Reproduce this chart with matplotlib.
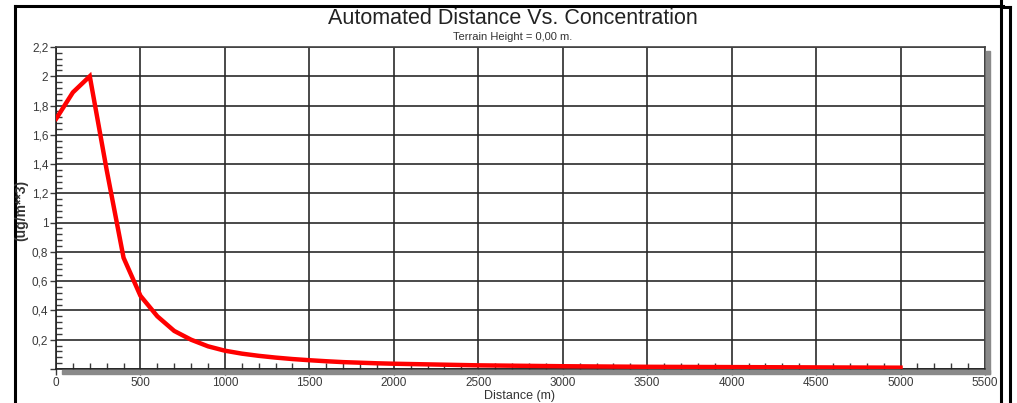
import matplotlib
matplotlib.use('Agg')
import matplotlib.pyplot as plt
from matplotlib.patches import Rectangle
from matplotlib.lines import Line2D
from matplotlib.ticker import MultipleLocator, FuncFormatter

plt.rcParams['font.family'] = ['Liberation Sans', 'DejaVu Sans']

# 数据：距离 (m) 与浓度 (ug/m**3)
distance = [1, 100, 200, 300, 400, 500, 600, 700, 800, 900, 1000, 1100, 1200,
            1300, 1400, 1500, 1600, 1700, 1800, 1900, 2000, 2500, 3000, 3500,
            4000, 4500, 5000]
concentration = [1.71, 1.89, 2.00, 1.36, 0.76, 0.50, 0.36, 0.26, 0.20, 0.155,
                 0.125, 0.105, 0.09, 0.078, 0.068, 0.06, 0.053, 0.047, 0.043,
                 0.039, 0.036, 0.025, 0.019, 0.015, 0.013, 0.011, 0.009]

title = 'Automated Distance Vs. Concentration'
subtitle = 'Terrain Height = 0,00 m.'
x_label = 'Distance (m)'
y_label = '(ug/m**3)'

W, H = 1017, 403
fig = plt.figure(figsize=(W / 100, H / 100), dpi=100)


def fx(px):
    return px / W


def fy(py):
    return 1 - py / H


ax = fig.add_axes([fx(56), fy(369), fx(985) - fx(56), fy(47) - fy(369)])
ax.plot(distance, concentration, color='#ff0000', lw=3.2,
        solid_joinstyle='miter', zorder=5)

ax.set_xlim(0, 5500)
ax.set_ylim(0, 2.2)
ax.xaxis.set_major_locator(MultipleLocator(500))
ax.xaxis.set_minor_locator(MultipleLocator(100))
ax.yaxis.set_major_locator(MultipleLocator(0.2))
ax.yaxis.set_minor_locator(MultipleLocator(0.04))


def y_fmt(v, pos):
    if abs(v) < 1e-9:
        return ''
    return f'{round(v, 2):g}'.replace('.', ',')


ax.xaxis.set_major_formatter(FuncFormatter(lambda v, p: f'{v:g}'))
ax.yaxis.set_major_formatter(FuncFormatter(y_fmt))

tick_col = '#3a3a3a'
ax.tick_params(which='major', direction='out', length=4, width=1.0,
               colors=tick_col, labelsize=8.5, pad=1.5)
ax.tick_params(which='minor', direction='in', length=4.5, width=1.0,
               color=tick_col)
ax.tick_params(axis='x', which='major', pad=2)

ax.grid(which='major', color='#2a2a2a', lw=1.2)
ax.set_axisbelow(True)

for side in ['left', 'bottom']:
    ax.spines[side].set_color('#222222')
    ax.spines[side].set_linewidth(1.2)
for side in ['top', 'right']:
    ax.spines[side].set_color('#444444')
    ax.spines[side].set_linewidth(1.2)

# 阴影边框
shadow = '#8a8a8a'
fig.patches.append(Rectangle((fx(62), fy(374)), fx(990) - fx(62), fy(370) - fy(374),
                             transform=fig.transFigure, color=shadow, zorder=0))
fig.patches.append(Rectangle((fx(986), fy(374)), fx(990) - fx(986), fy(51) - fy(374),
                             transform=fig.transFigure, color=shadow, zorder=0))

# 文档边框
border = dict(color='black', lw=2.2, transform=fig.transFigure)
fig.add_artist(Line2D([fx(15), fx(15)], [fy(6), fy(403)], **border))
fig.add_artist(Line2D([fx(15), fx(1003)], [fy(6), fy(6)], **border))
fig.add_artist(Line2D([fx(1001), fx(1001)], [fy(0), fy(403)], **border))
fig.add_artist(Line2D([fx(1001), fx(1010)], [fy(7), fy(7)], **border))
fig.add_artist(Line2D([fx(1010), fx(1010)], [fy(7), fy(403)], **border))

fig.text(fx(513), fy(18), title, ha='center', va='center', fontsize=15.5,
         color='#222222')
fig.text(fx(513), fy(37), subtitle, ha='center', va='center', fontsize=8,
         color='#333333')
fig.text(fx(21), fy(210), y_label, ha='center', va='center', rotation=90,
         fontsize=10, fontweight='bold', color='#333333')
fig.text(fx(519), fy(402), x_label, ha='center', va='bottom', fontsize=9,
         color='#333333')

fig.savefig('out.png', dpi=100)
